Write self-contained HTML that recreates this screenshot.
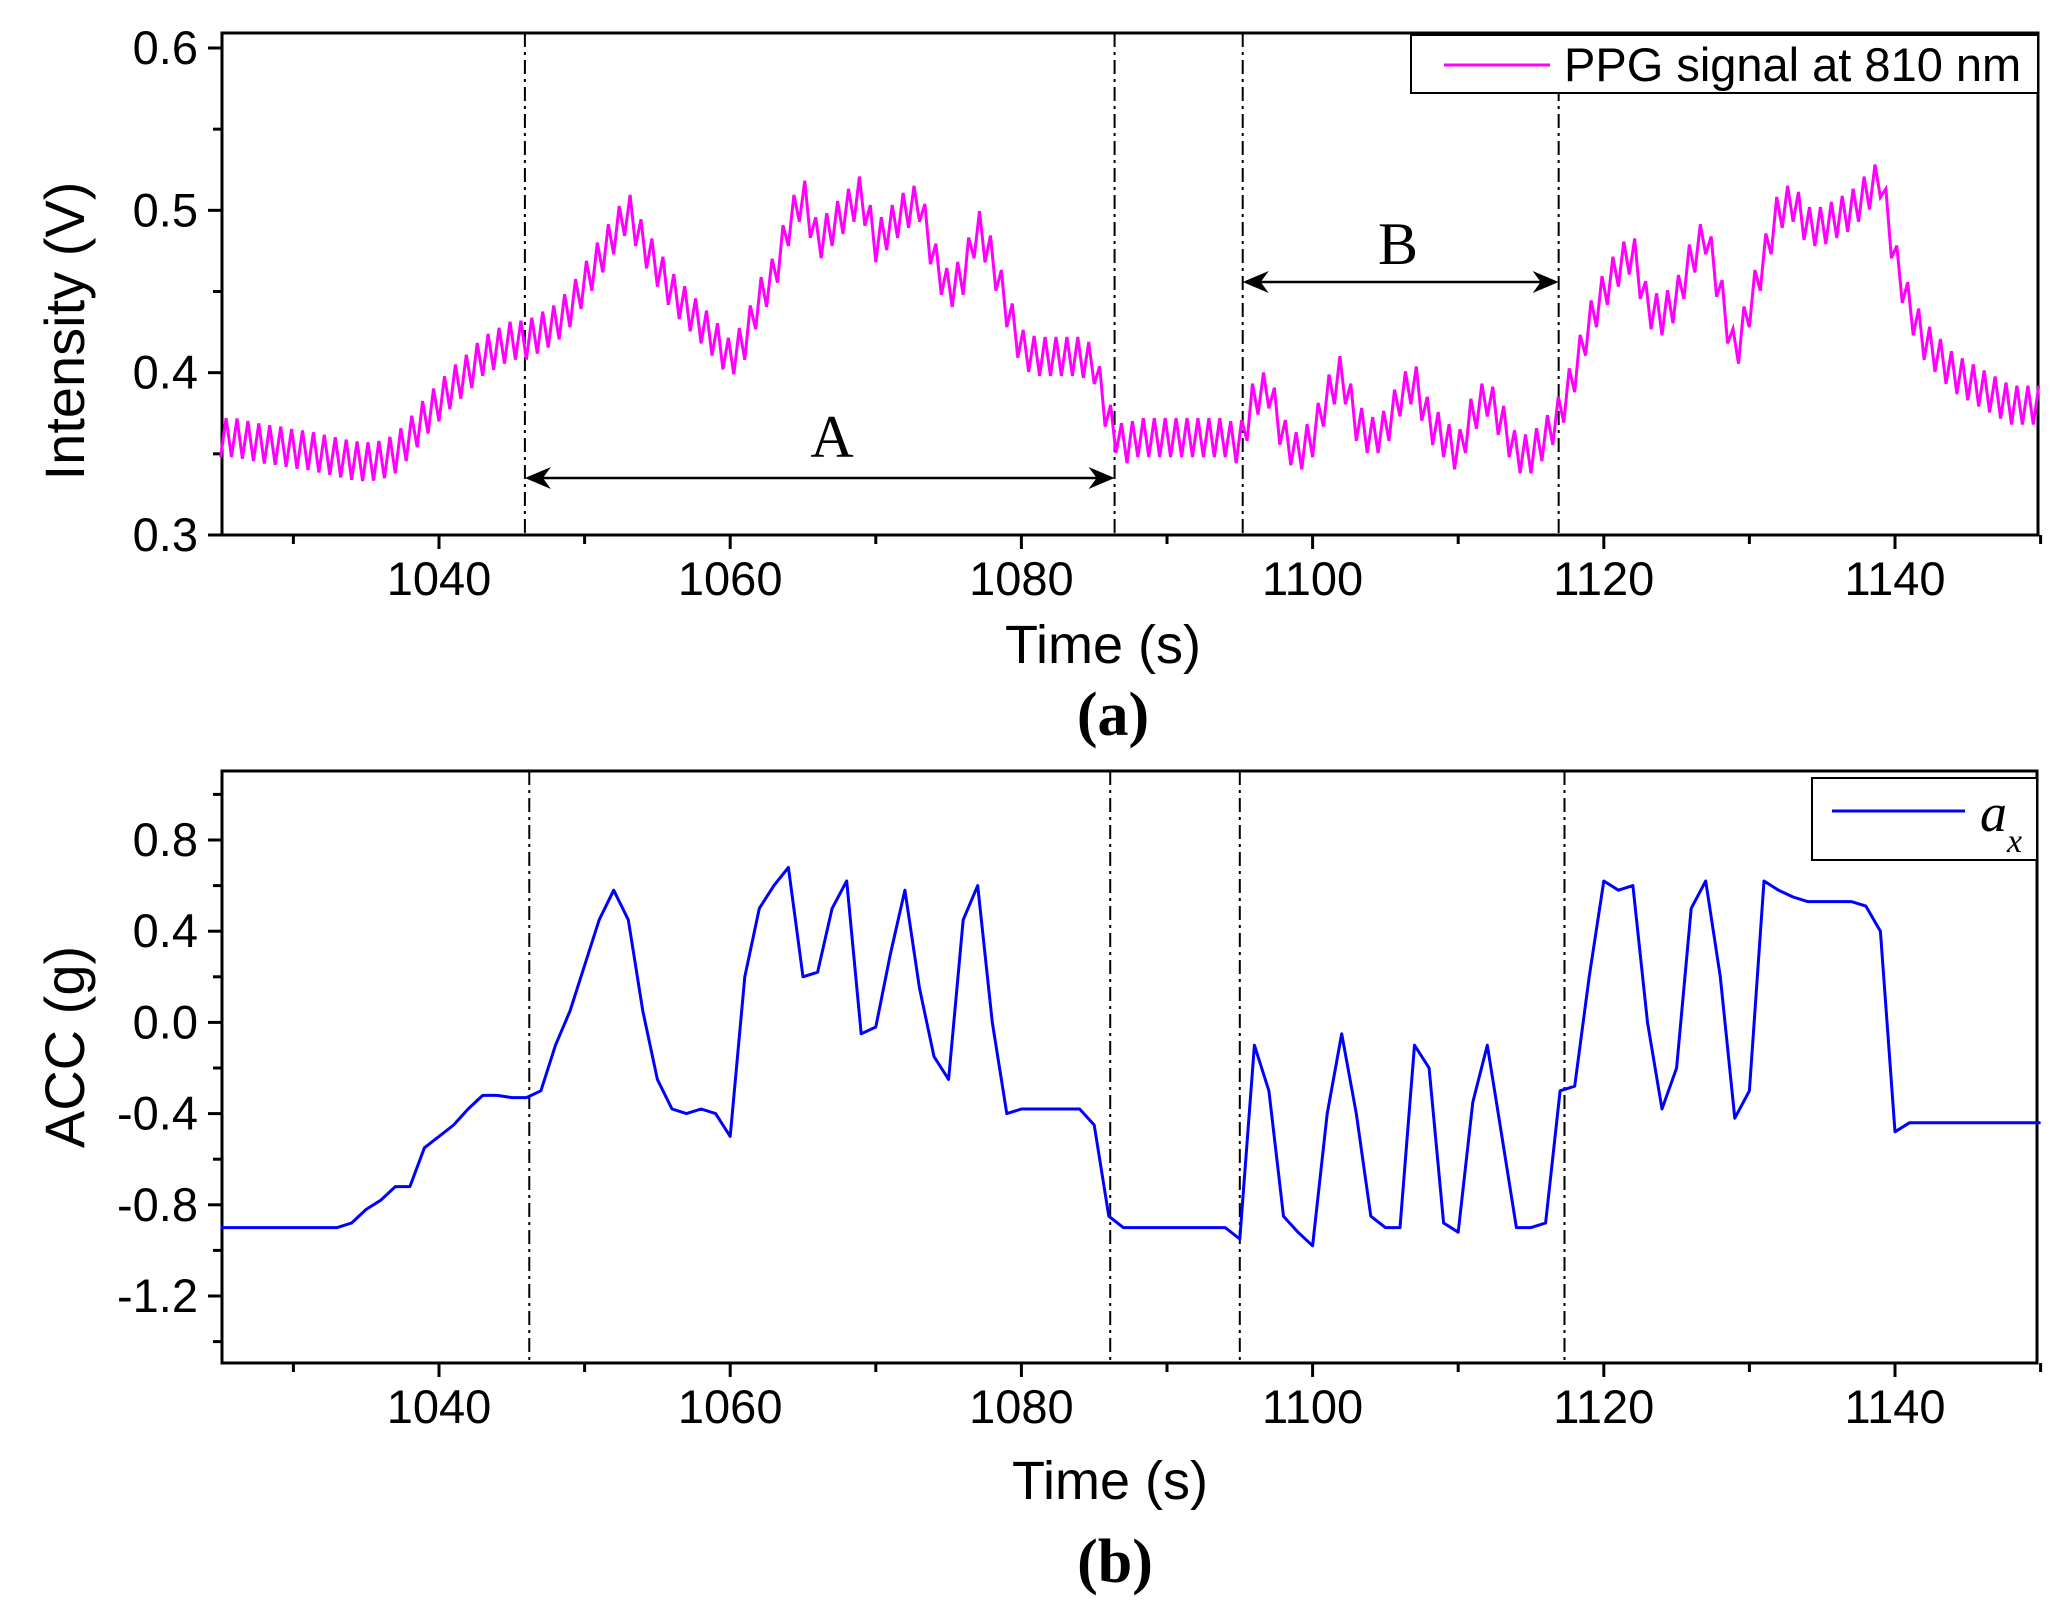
<!DOCTYPE html>
<html><head><meta charset="utf-8"><style>
html,body{margin:0;padding:0;background:#fff;}
svg{display:block;}
text{font-family:"Liberation Sans",Arial,sans-serif;fill:#000;}
.serif{font-family:"Liberation Serif","Times New Roman",serif;}
</style></head><body>
<svg id="fig" width="2066" height="1611" viewBox="0 0 2066 1611" xmlns="http://www.w3.org/2000/svg"></svg>
<script>
const t0 = 1025;
const xTicksMajor = [1040, 1060, 1080, 1100, 1120, 1140];
const xTicksMinor = [1030, 1050, 1070, 1090, 1110, 1130, 1150];
const ppgYTicks = [0.3, 0.4, 0.5, 0.6];
const ppgYTickLabels = ["0.3", "0.4", "0.5", "0.6"];
const accYTicks = [-1.2, -0.8, -0.4, 0.0, 0.4, 0.8];
const accYTickLabels = ["-1.2", "-0.8", "-0.4", "0.0", "0.4", "0.8"];
const segmentTimesA = [1045.9, 1086.4, 1095.2, 1116.9];
const segmentTimesB = [1046.2, 1086.1, 1095.0, 1117.3];
const ppgTrend = [
.36,.36,.358,.356,.355,.353,.352,.35,.348,.346,
.345,.346,.35,.36,.372,.382,.392,.40,.41,.415,
.42,.42,.425,.43,.44,.455,.47,.485,.50,.48,
.465,.45,.44,.43,.42,.408,.42,.445,.46,.49,
.51,.48,.49,.50,.51,.48,.49,.50,.505,.47,
.45,.46,.49,.47,.44,.415,.41,.41,.41,.41,
.405,.37,.355,.36,.36,.36,.36,.36,.36,.36,
.355,.385,.39,.36,.35,.36,.385,.40,.37,.36,
.365,.385,.395,.37,.36,.35,.375,.385,.37,.35,
.35,.36,.375,.40,.43,.45,.465,.475,.44,.435,
.445,.47,.485,.45,.41,.44,.47,.50,.505,.49,
.49,.495,.50,.51,.52,.47,.44,.42,.41,.40,
.395,.39,.385,.38,.38,.38];
const ppgPulseAmp = 0.012;
const accX = [
-0.9,-0.9,-0.9,-0.9,-0.9,-0.9,-0.9,-0.9,-0.9,-0.88,
-0.82,-0.78,-0.72,-0.72,-0.55,-0.5,-0.45,-0.38,-0.32,-0.32,
-0.33,-0.33,-0.3,-0.1,0.05,0.25,0.45,0.58,0.45,0.05,
-0.25,-0.38,-0.4,-0.38,-0.4,-0.5,0.2,0.5,0.6,0.68,
0.2,0.22,0.5,0.62,-0.05,-0.02,0.3,0.58,0.15,-0.15,
-0.25,0.45,0.6,0.0,-0.4,-0.38,-0.38,-0.38,-0.38,-0.38,
-0.45,-0.85,-0.9,-0.9,-0.9,-0.9,-0.9,-0.9,-0.9,-0.9,
-0.95,-0.1,-0.3,-0.85,-0.92,-0.98,-0.4,-0.05,-0.4,-0.85,
-0.9,-0.9,-0.1,-0.2,-0.88,-0.92,-0.35,-0.1,-0.5,-0.9,
-0.9,-0.88,-0.3,-0.28,0.2,0.62,0.58,0.6,0.0,-0.38,
-0.2,0.5,0.62,0.2,-0.42,-0.3,0.62,0.58,0.55,0.53,
0.53,0.53,0.53,0.51,0.4,-0.48,-0.44,-0.44,-0.44,-0.44,
-0.44,-0.44,-0.44,-0.44,-0.44,-0.44];

const NS = "http://www.w3.org/2000/svg";
const svg = document.getElementById('fig');
function el(tag, attrs, parent){const e=document.createElementNS(NS,tag);for(const k in attrs)e.setAttribute(k,attrs[k]);(parent||svg).appendChild(e);return e;}
const xS = t => 439 + (t - 1040) * 14.56;
const P1 = {l:222, r:2038, t:33, b:535};
const y1 = v => 535 - (v - 0.3) * (487/0.3);
const P2 = {l:222, r:2037, t:771, b:1363};
const y2 = v => 840 - (v - 0.8) * 228;

function interp(arr, t){const i=Math.floor(t-t0);const f=t-t0-i;const a=arr[Math.max(0,Math.min(arr.length-1,i))];const b=arr[Math.max(0,Math.min(arr.length-1,i+1))];return a+(b-a)*f;}

function axes(P, yScale, yTicks, yLabels, name, minorStep){
  const g = el('g',{});
  
  
  el('rect',{x:P.l,y:P.t,width:P.r-P.l,height:P.b-P.t,fill:'none',stroke:'#000','stroke-width':3},g);
  xTicksMajor.forEach(t=>{
    el('line',{x1:xS(t),x2:xS(t),y1:P.b,y2:P.b+14,stroke:'#000','stroke-width':3},g);
    const tx=el('text',{x:xS(t),y:P.b+60,'font-size':47,'text-anchor':'middle'},g);tx.textContent=t;
    
    
  });
  xTicksMinor.forEach(t=>{el('line',{x1:xS(t),x2:xS(t),y1:P.b,y2:P.b+9,stroke:'#000','stroke-width':3},g);});
  yTicks.forEach((v,i)=>{
    el('line',{x1:P.l-14,x2:P.l,y1:yScale(v),y2:yScale(v),stroke:'#000','stroke-width':3},g);
    const tx=el('text',{x:P.l-24,y:yScale(v)+16,'font-size':47,'text-anchor':'end'},g);tx.textContent=yLabels[i];
    
    
  });
  for(let i=0;i<yTicks.length;i++){const v=yTicks[i]+minorStep;const yy=yScale(v);if(yy>P.t)el('line',{x1:P.l-9,x2:P.l,y1:yy,y2:yy,stroke:'#000','stroke-width':3},g);}
  const v0=yTicks[0]-minorStep; if(yScale(v0)<P.b) el('line',{x1:P.l-9,x2:P.l,y1:yScale(v0),y2:yScale(v0),stroke:'#000','stroke-width':3},g);
}
axes(P1,y1,ppgYTicks,ppgYTickLabels,'ppg',0.05);
axes(P2,y2,accYTicks,accYTickLabels,'acc',0.2);

segmentTimesA.forEach(t=>{const l=el('line',{x1:xS(t),x2:xS(t),y1:P1.t,y2:P1.b,stroke:'#000','stroke-width':2,'stroke-dasharray':'14,5,3,5'});
  
  });
segmentTimesB.forEach(t=>{const l=el('line',{x1:xS(t),x2:xS(t),y1:P2.t,y2:P2.b,stroke:'#000','stroke-width':2,'stroke-dasharray':'14,5,3,5'});
  
  });

let d='';const beat=0.75;let k=0;
for(let t=t0;t<=1150;t+=beat/2,k++){
  const v=interp(ppgTrend,t)+(k%2? ppgPulseAmp : -ppgPulseAmp);
  d+=(d?'L':'M')+xS(t).toFixed(1)+','+y1(v).toFixed(1);
}
const ppg=el('path',{d:d,fill:'none',stroke:'#ff00ff','stroke-width':3});



let d2='';
accX.forEach((v,i)=>{d2+=(i?'L':'M')+xS(t0+i).toFixed(1)+','+y2(v).toFixed(1);});
const acc=el('path',{d:d2,fill:'none',stroke:'#0000ff','stroke-width':3,'stroke-linejoin':'round'});



function arrow(x1,x2,y,name){
  const g=el('g',{});
  
  
  el('line',{x1:x1+4,x2:x2-4,y1:y,y2:y,stroke:'#000','stroke-width':2.5},g);
  el('path',{d:`M${x1},${y} L${x1+26},${y-11} L${x1+18},${y} L${x1+26},${y+11}Z`,fill:'#000'},g);
  el('path',{d:`M${x2},${y} L${x2-26},${y-11} L${x2-18},${y} L${x2-26},${y+11}Z`,fill:'#000'},g);
}
arrow(xS(segmentTimesA[0]),xS(segmentTimesA[1]),478,'arrow-a');
arrow(xS(segmentTimesA[2]),xS(segmentTimesA[3]),282,'arrow-b');
</script>
<svg style="position:absolute;left:0;top:0" width="2066" height="1611" viewBox="0 0 2066 1611">
<text class="serif" x="832" y="457" font-size="60" text-anchor="middle">A</text>
<text class="serif" x="1398" y="264" font-size="60" text-anchor="middle">B</text>
<text x="64" y="331" font-size="56" text-anchor="middle" transform="rotate(-90 64 331)" dy="20">Intensity (V)</text>
<text x="64" y="1047" font-size="56" text-anchor="middle" transform="rotate(-90 64 1047)" dy="20">ACC (g)</text>
<text x="1103" y="663" font-size="54" text-anchor="middle">Time (s)</text>
<text class="serif" x="1113" y="735" font-size="62" font-weight="bold" text-anchor="middle">(a)</text>
<text x="1110" y="1499" font-size="54" text-anchor="middle">Time (s)</text>
<text class="serif" x="1115" y="1582" font-size="62" font-weight="bold" text-anchor="middle">(b)</text>
<g>
<rect x="1411" y="35" width="627" height="58" fill="#fff" stroke="#000" stroke-width="2"/>
<line x1="1444" x2="1550" y1="65" y2="65" stroke="#ff00ff" stroke-width="3"/>
<text x="1564" y="81" font-size="47">PPG signal at 810 nm</text>
</g>
<g>
<rect x="1812" y="778" width="225" height="82" fill="#fff" stroke="#000" stroke-width="2"/>
<line x1="1832" x2="1965" y1="811" y2="811" stroke="#0000ff" stroke-width="3"/>
<text class="serif" x="1980" y="831" font-size="54" font-style="italic">a</text>
<text class="serif" x="2007" y="852" font-size="34" font-style="italic">x</text>
</g>
</svg>
</body></html>
